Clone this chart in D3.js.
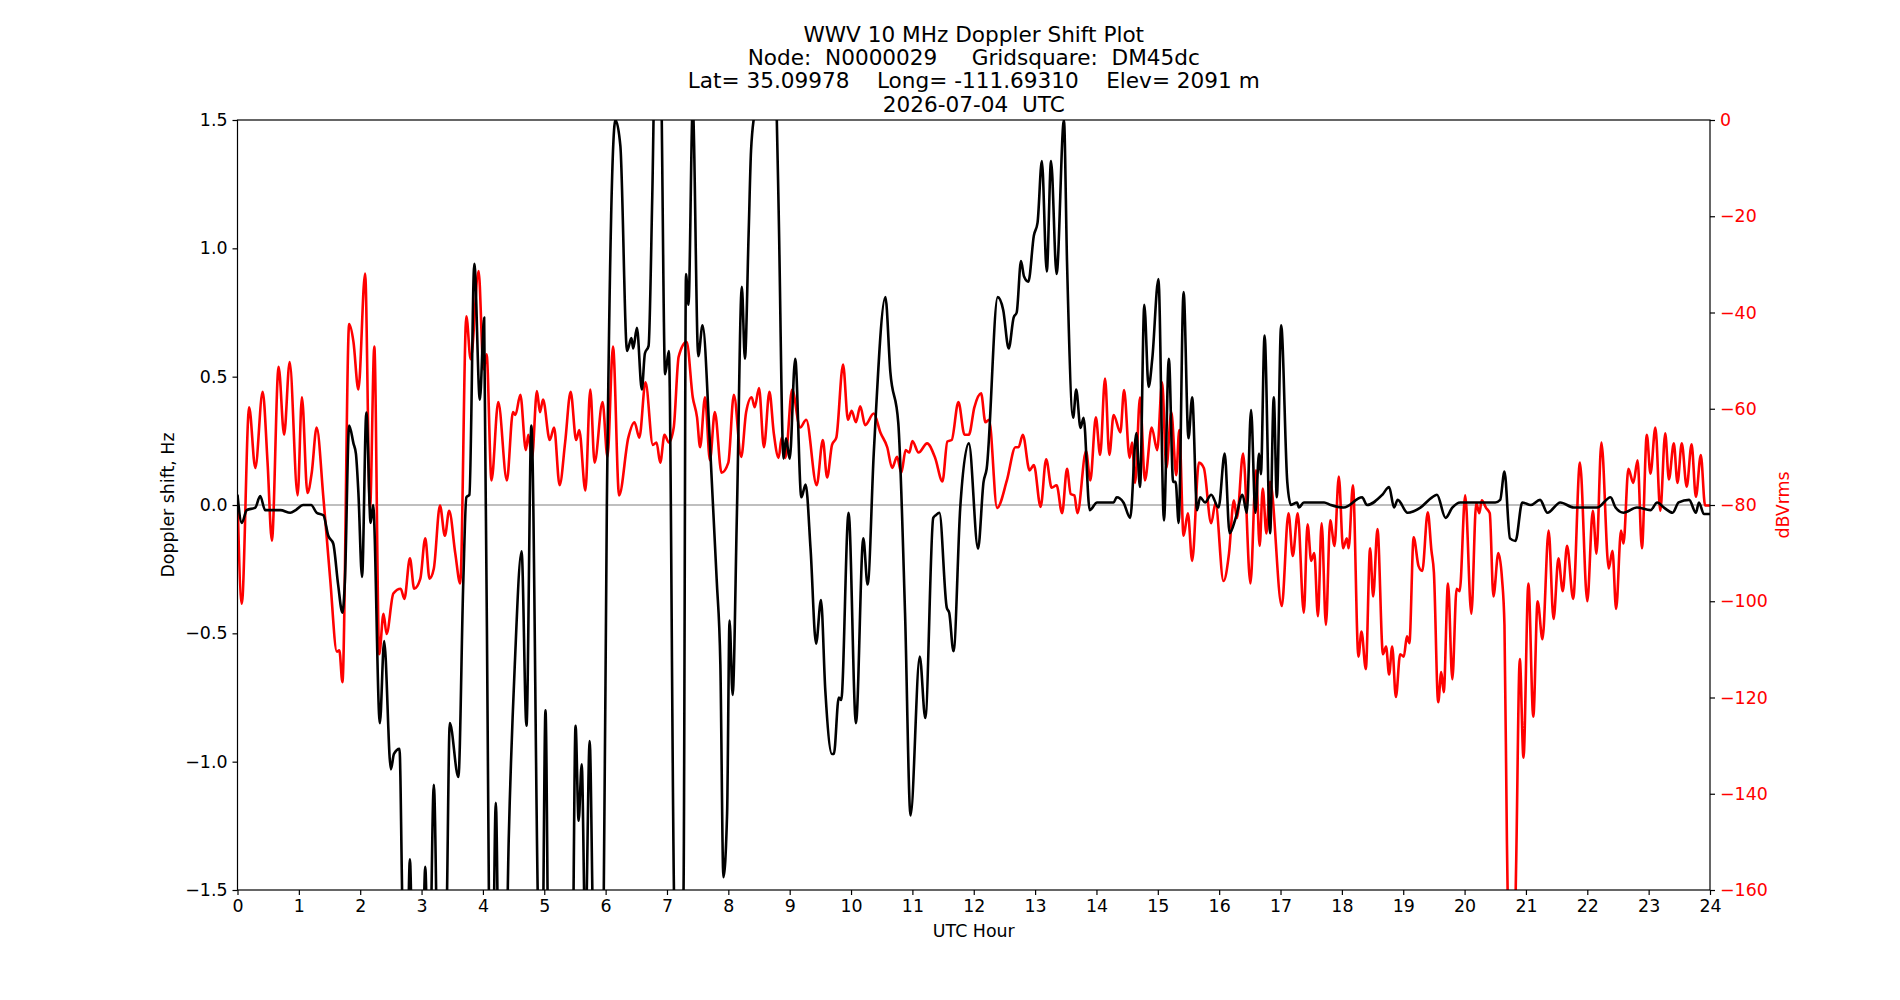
<!DOCTYPE html>
<html>
<head>
<meta charset="utf-8">
<script src="https://cdn.jsdelivr.net/npm/d3@7"></script>
<style>
  body { margin: 0; background: #fff; }
  svg { display: block; font-family: "DejaVu Sans", sans-serif; }
</style>
</head>
<body>
<div id="chart"></div>
<script>
// chart text
const titleLines = [
    "WWV 10 MHz Doppler Shift Plot",
    "Node:  N0000029     Gridsquare:  DM45dc",
    "Lat= 35.09978    Long= -111.69310    Elev= 2091 m",
    "2026-07-04  UTC"
];
const xTicks = d3.range(0, 25, 1);
const dopplerTicks = [-1.5, -1.0, -0.5, 0.0, 0.5, 1.0, 1.5];
const powerTicks = [0, -20, -40, -60, -80, -100, -120, -140, -160];

// doppler shift (Hz), hour / value
const dopplerHour = [
    0.00, 0.07, 0.15, 0.29, 0.37, 0.45, 0.53, 0.70, 0.86, 0.95, 1.07, 1.20, 1.29, 1.40, 1.48, 1.56, 1.64, 1.71, 1.75,
    1.82, 1.89, 1.93, 1.97, 2.03, 2.10, 2.17, 2.21, 2.32, 2.39, 2.50, 2.55, 2.64, 2.69, 2.75, 2.81, 2.87, 3.00, 3.06,
    3.12, 3.20, 3.28, 3.40, 3.46, 3.60, 3.68, 3.73, 3.78, 3.86, 3.95, 4.02, 4.10, 4.15, 4.21, 4.27, 4.36, 4.42, 4.52,
    4.63, 4.71, 4.79, 4.90, 4.96, 5.02, 5.08, 5.45, 5.51, 5.56, 5.61, 5.67, 5.74, 5.80, 5.90, 5.97, 6.02, 6.16, 6.24,
    6.35, 6.42, 6.45, 6.51, 6.59, 6.64, 6.70, 6.76, 6.81, 6.89, 6.97, 7.03, 7.12, 7.20, 7.27, 7.31, 7.35, 7.42, 7.51,
    7.58, 7.70, 7.81, 7.87, 7.92, 7.98, 8.02, 8.07, 8.14, 8.22, 8.27, 8.33, 8.37, 8.44, 8.60, 8.75, 8.79, 8.82, 8.90,
    8.94, 9.00, 9.09, 9.19, 9.26, 9.34, 9.43, 9.51, 9.58, 9.69, 9.72, 9.80, 9.84, 9.96, 10.08, 10.20, 10.27, 10.37,
    10.56, 10.64, 10.77, 10.88, 10.97, 11.12, 11.21, 11.34, 11.38, 11.44, 11.56, 11.60, 11.67, 11.78, 11.92, 12.07,
    12.16, 12.21, 12.39, 12.48, 12.57, 12.65, 12.70, 12.77, 12.82, 12.89, 12.98, 13.04, 13.11, 13.19, 13.26, 13.35,
    13.47, 13.52, 13.62, 13.67, 13.74, 13.79, 13.89, 14.01, 14.17, 14.28, 14.33, 14.44, 14.55, 14.65, 14.71, 14.78,
    14.85, 14.91, 15.01, 15.10, 15.18, 15.25, 15.29, 15.34, 15.42, 15.50, 15.56, 15.64, 15.69, 15.77, 15.87, 15.99,
    16.09, 16.17, 16.27, 16.38, 16.45, 16.52, 16.59, 16.65, 16.68, 16.74, 16.83, 16.89, 16.94, 17.01, 17.11, 17.17,
    17.27, 17.30, 17.38, 17.71, 17.82, 18.03, 18.33, 18.41, 18.66, 18.77, 18.85, 18.91, 19.07, 19.28, 19.47, 19.55,
    19.69, 19.80, 19.93, 20.10, 20.50, 20.58, 20.65, 20.74, 20.83, 20.94, 21.08, 21.23, 21.35, 21.56, 21.78, 22.00,
    22.16, 22.38, 22.46, 22.59, 22.81, 23.03, 23.14, 23.25, 23.39, 23.49, 23.66, 23.77, 23.82, 23.90, 24.00
];
const dopplerHz = [
    0.04, -0.07, -0.02, -0.01, 0.035, -0.02, -0.02, -0.02, -0.03, -0.02, 0.0, 0.0, -0.03, -0.04, -0.12, -0.15, -0.31, -0.42, -0.30,
    0.31, 0.24, 0.20, 0.05, -0.28, 0.36, -0.07, 0.0, -0.85, -0.53, -1.03, -0.97, -0.95, -1.6, -2.0, -1.38, -2.0, -2.0, -1.41,
    -2.0, -1.09, -2.0, -1.7, -0.85, -1.06, -0.3, 0.03, 0.04, 0.94, 0.41, 0.73, -1.6, -2.0, -1.16, -2.0, -2.0, -1.31, -0.62,
    -0.18, -0.86, 0.31, -1.6, -2.0, -0.80, -2.0, -2.0, -0.86, -1.23, -1.01, -1.7, -0.92, -1.7, -2.0, -1.5, 0.0, 1.5, 1.40,
    0.60, 0.65, 0.61, 0.69, 0.45, 0.59, 0.62, 1.2, 1.8, 1.8, 0.51, 0.60, -1.6, -2.0, -1.5, 0.90, 0.78, 1.55, 0.58,
    0.70, 0.24, -0.29, -0.62, -1.45, -1.2, -0.45, -0.74, -0.03, 0.85, 0.57, 1.05, 1.38, 1.55, 1.8, 1.7, 1.5, 1.15, 0.18,
    0.26, 0.18, 0.57, 0.03, 0.08, -0.17, -0.54, -0.37, -0.72, -0.97, -0.97, -0.75, -0.76, -0.03, -0.85, -0.13, -0.31, 0.20,
    0.81, 0.52, 0.32, -0.42, -1.21, -0.59, -0.83, -0.05, -0.04, -0.03, -0.40, -0.42, -0.57, -0.01, 0.24, -0.17,
    0.09, 0.14, 0.81, 0.76, 0.61, 0.73, 0.75, 0.95, 0.89, 0.87, 1.05, 1.10, 1.34, 0.91, 1.34, 0.90,
    1.50, 0.95, 0.34, 0.45, 0.30, 0.34, -0.02, 0.01, 0.01, 0.01, 0.03, 0.01, -0.05, 0.28, 0.07, 0.78,
    0.46, 0.57, 0.88, -0.06, 0.57, 0.09, 0.09, -0.07, 0.83, 0.26, 0.42, -0.02, 0.03, 0.01, 0.04, -0.01,
    0.20, -0.11, -0.05, 0.04, -0.03, 0.37, -0.03, 0.20, 0.12, 0.66, -0.11, 0.42, 0.03, 0.70, 0.09, 0.0,
    0.01, -0.01, 0.01, 0.01, 0.0, -0.01, 0.03, 0.0, 0.04, 0.07, -0.01, 0.02, -0.03, -0.01, 0.03, 0.04,
    -0.05, -0.01, 0.01, 0.01, 0.01, 0.02, 0.13, -0.13, -0.14, 0.01, 0.0, 0.02, -0.03, 0.01, -0.01, -0.01,
    -0.01, 0.03, -0.01, -0.03, -0.01, -0.02, 0.01, -0.01, -0.03, 0.01, 0.02, -0.03, 0.01, -0.035, -0.035
];

// received level (dBVrms), hour / value
const powerHour = [
    0.00, 0.07, 0.19, 0.29, 0.41, 0.49, 0.56, 0.67, 0.76, 0.85, 0.98, 1.05, 1.14, 1.21, 1.29, 1.40, 1.51, 1.62, 1.66,
    1.71, 1.82, 1.89, 1.97, 2.08, 2.16, 2.23, 2.31, 2.38, 2.43, 2.54, 2.66, 2.72, 2.81, 2.88, 2.98, 3.06, 3.13, 3.20,
    3.30, 3.38, 3.45, 3.55, 3.63, 3.73, 3.80, 3.93, 4.01, 4.06, 4.14, 4.25, 4.39, 4.49, 4.53, 4.61, 4.70, 4.74, 4.80,
    4.88, 4.93, 4.98, 5.09, 5.16, 5.25, 5.34, 5.43, 5.52, 5.57, 5.67, 5.75, 5.82, 5.95, 6.03, 6.12, 6.22, 6.37, 6.47,
    6.55, 6.65, 6.77, 6.83, 6.89, 6.96, 7.03, 7.11, 7.19, 7.32, 7.42, 7.49, 7.54, 7.62, 7.70, 7.78, 7.89, 8.00, 8.09,
    8.21, 8.29, 8.38, 8.43, 8.50, 8.58, 8.67, 8.74, 8.82, 8.87, 8.93, 9.04, 9.17, 9.27, 9.44, 9.54, 9.61, 9.69, 9.76,
    9.87, 9.95, 10.01, 10.08, 10.15, 10.23, 10.37, 10.48, 10.59, 10.67, 10.75, 10.82, 10.89, 10.95, 11.00, 11.10,
    11.24, 11.37, 11.49, 11.57, 11.64, 11.75, 11.85, 11.92, 12.01, 12.12, 12.19, 12.25, 12.38, 12.54, 12.68, 12.73,
    12.80, 12.91, 12.98, 13.09, 13.18, 13.27, 13.35, 13.44, 13.52, 13.58, 13.64, 13.69, 13.83, 13.90, 13.99, 14.06,
    14.14, 14.21, 14.28, 14.39, 14.45, 14.54, 14.58, 14.63, 14.71, 14.79, 14.90, 14.99, 15.07, 15.14, 15.22, 15.30,
    15.35, 15.42, 15.49, 15.56, 15.67, 15.75, 15.87, 15.94, 16.07, 16.16, 16.24, 16.29, 16.39, 16.51, 16.60, 16.66,
    16.71, 16.77, 16.83, 17.02, 17.13, 17.20, 17.28, 17.38, 17.44, 17.50, 17.55, 17.61, 17.67, 17.74, 17.81, 17.88,
    17.95, 18.02, 18.08, 18.11, 18.18, 18.27, 18.32, 18.39, 18.46, 18.51, 18.58, 18.67, 18.72, 18.77, 18.82, 18.88,
    18.95, 19.01, 19.06, 19.10, 19.17, 19.25, 19.31, 19.40, 19.46, 19.50, 19.57, 19.62, 19.66, 19.73, 19.80, 19.87,
    19.92, 20.01, 20.11, 20.19, 20.24, 20.28, 20.35, 20.41, 20.47, 20.55, 20.61, 20.65, 20.69, 20.74, 20.80, 20.84,
    20.90, 20.96, 21.04, 21.12, 21.19, 21.27, 21.37, 21.45, 21.53, 21.60, 21.67, 21.77, 21.88, 22.00, 22.09, 22.15,
    22.23, 22.35, 22.41, 22.47, 22.55, 22.59, 22.67, 22.75, 22.82, 22.89, 22.97, 23.03, 23.11, 23.19, 23.27, 23.33,
    23.41, 23.47, 23.54, 23.62, 23.70, 23.77, 23.85, 23.92, 24.00
];
const powerDb = [
    -78.5, -100.5, -59.7, -72.3, -56.5, -71.2, -87.4, -51.3, -65.4, -50.3, -78, -57.6, -77.5, -73.3, -63.9, -78.5, -95.3, -110.5, -110.2,
    -116.8, -42.4, -46.1, -56, -31.9, -80.6, -47.1, -111, -102.6, -106.8, -98.4, -97.4, -99.5, -91.1, -97.4, -95.3, -86.9, -95.3, -93.2,
    -80.1, -86.4, -81.2, -90.1, -96.3, -40.8, -49.7, -31.4, -51.8, -48.7, -74.9, -58.6, -74.9, -60.7, -61.3, -57.1, -68.6, -65.4, -70.2,
    -56.3, -60.7, -58.1, -66.5, -63.9, -75.9, -67, -56.5, -66.5, -64.4, -77, -56, -71.2, -58.6, -70, -47.1, -78, -66, -62.8,
    -66, -54.5, -67.5, -67, -71.2, -65.4, -67, -63.9, -49.2, -46.1, -57.6, -61.8, -68, -57.6, -70.7, -60.7, -73.3, -71.2, -57.1,
    -70, -60.7, -57.6, -59.7, -55.7, -68, -56.5, -65, -70.2, -66, -70.2, -56, -63.9, -62.3, -75.9, -66.5, -74.3, -67.5, -66,
    -50.8, -62.3, -60.4, -62.8, -59.5, -63.4, -61, -65, -68, -72.3, -70, -73.3, -68.6, -69.1, -66.7, -69.1,
    -67.2, -70.2, -75.1, -66.8, -66.5, -58.6, -65.4, -65.4, -59.7, -56.8, -62.8, -62.3, -80.6, -74.9, -68, -68,
    -65.4, -72.8, -71.7, -80.4, -70.5, -76.4, -75.9, -81.7, -72.5, -77.7, -78, -81.7, -68.8, -74.9, -61.8, -69.6,
    -53.7, -69.6, -61.3, -64.9, -56.1, -70.2, -67, -75.4, -57.6, -74.9, -63.9, -68.6, -54.5, -72.3, -60.7, -73.8,
    -64.4, -86.4, -81.7, -91.6, -71.2, -72.3, -83.8, -79.6, -95.8, -90.1, -79, -82.7, -69.3, -96.3, -72.8, -88.5,
    -76.6, -85.9, -75.2, -101, -81.7, -90.6, -81.7, -102.4, -84, -91.6, -90, -103.1, -83.8, -104.9, -83.2, -88.5,
    -74.1, -89, -86.9, -89, -75.9, -111.5, -106.3, -114.1, -89, -99, -85, -111, -109.4, -115.2, -109.4, -119.9,
    -111, -111.5, -107.3, -108.7, -86.7, -92.7, -93.7, -81.5, -89.5, -94, -121, -114.7, -118.9, -96.3, -116.2, -97.4,
    -97.9, -78, -102.6, -79.6, -81.7, -79, -80.6, -81.7, -99, -90, -95.3, -105, -150, -180, -180, -155,
    -112, -132.5, -96.3, -124, -100, -107.9, -85.3, -103.7, -91.1, -97.9, -88.5, -99.5, -71.2, -100, -81.2, -90.1,
    -67, -93.2, -89.5, -101.6, -85.3, -88, -72.5, -75.4, -70.7, -89, -65.4, -73.5, -63.9, -81.2, -65.1, -74.7,
    -67.2, -75.4, -67.2, -76.2, -67.4, -78.3, -69.6, -80.1, -80.1
];

const W = 1900, H = 1000;
const margin = {top: 120, right: 190, bottom: 110, left: 237.5};
const plotW = W - margin.left - margin.right;
const plotH = H - margin.top - margin.bottom;
const tickFont = 17.4;

const svg = d3.select("#chart").append("svg")
    .attr("width", W)
    .attr("height", H);

const g = svg.append("g")
    .attr("transform", `translate(${margin.left},${margin.top})`);

const x = d3.scaleLinear().domain([0, 24]).range([0, plotW]);
const yL = d3.scaleLinear().domain([-1.5, 1.5]).range([plotH, 0]);
const yR = d3.scaleLinear().domain([-160, 0]).range([plotH, 0]);

g.append("defs").append("clipPath")
    .attr("id", "plotClip")
    .append("rect")
    .attr("width", plotW)
    .attr("height", plotH);

// zero reference line
g.append("line")
    .attr("x1", 0).attr("x2", plotW)
    .attr("y1", yL(0)).attr("y2", yL(0))
    .style("stroke", "#808080")
    .style("stroke-width", 1.2);

const power = powerHour.map((h, i) => ({h: h, v: powerDb[i]}));
const doppler = dopplerHour.map((h, i) => ({h: h, v: dopplerHz[i]}));

const powerLine = d3.line()
    .x(d => x(d.h))
    .y(d => yR(d.v))
    .curve(d3.curveMonotoneX);

const dopplerLine = d3.line()
    .x(d => x(d.h))
    .y(d => yL(d.v))
    .curve(d3.curveMonotoneX);

const lines = g.append("g").attr("clip-path", "url(#plotClip)");

lines.append("path")
    .datum(power)
    .attr("d", powerLine)
    .style("fill", "none")
    .style("stroke", "#ff0000")
    .style("stroke-width", 2.6)
    .style("stroke-linejoin", "round");

lines.append("path")
    .datum(doppler)
    .attr("d", dopplerLine)
    .style("fill", "none")
    .style("stroke", "#000000")
    .style("stroke-width", 2.6)
    .style("stroke-linejoin", "round");

// axes
function styleAxis(sel, color) {
    sel.select(".domain").remove();
    sel.selectAll(".tick line").style("stroke", "#000").style("stroke-width", 1.2);
    sel.selectAll(".tick text")
        .style("font-family", "DejaVu Sans")
        .style("font-size", tickFont + "px")
        .style("fill", color);
}

g.append("g")
    .attr("transform", `translate(0,${plotH})`)
    .call(d3.axisBottom(x).tickValues(xTicks).tickFormat(d3.format("d")).tickSize(5).tickPadding(4.6))
    .call(sel => styleAxis(sel, "#000"));

g.append("g")
    .call(d3.axisLeft(yL).tickValues(dopplerTicks).tickFormat(d3.format(".1f")).tickSize(5).tickPadding(5))
    .call(sel => styleAxis(sel, "#000"));

g.append("g")
    .attr("transform", `translate(${plotW},0)`)
    .call(d3.axisRight(yR).tickValues(powerTicks).tickFormat(d3.format("d")).tickSize(5).tickPadding(5))
    .call(sel => styleAxis(sel, "#ff0000"));

// frame
g.append("rect")
    .attr("width", plotW)
    .attr("height", plotH)
    .style("fill", "none")
    .style("stroke", "#000")
    .style("stroke-width", 1.2);

// labels
g.append("text")
    .attr("x", plotW / 2)
    .attr("y", plotH + 46.5)
    .attr("text-anchor", "middle")
    .style("font-size", tickFont + "px")
    .text("UTC Hour");

g.append("text")
    .attr("transform", `translate(${168 - margin.left},${plotH / 2}) rotate(-90)`)
    .attr("text-anchor", "middle")
    .attr("dy", "0.35em")
    .style("font-size", tickFont + "px")
    .text("Doppler shift, Hz");

g.append("text")
    .attr("transform", `translate(${1783 - margin.left},${plotH / 2}) rotate(-90)`)
    .attr("text-anchor", "middle")
    .attr("dy", "0.35em")
    .style("font-size", tickFont + "px")
    .style("fill", "#ff0000")
    .text("dBVrms");

const title = svg.append("text")
    .attr("text-anchor", "middle")
    .style("font-size", "21.6px")
    .style("white-space", "pre");

titleLines.forEach((t, i) => {
    title.append("tspan")
        .attr("x", margin.left + plotW / 2)
        .attr("y", 111.5 - (titleLines.length - 1 - i) * 23.2)
        .text(t);
});
</script>
</body>
</html>
